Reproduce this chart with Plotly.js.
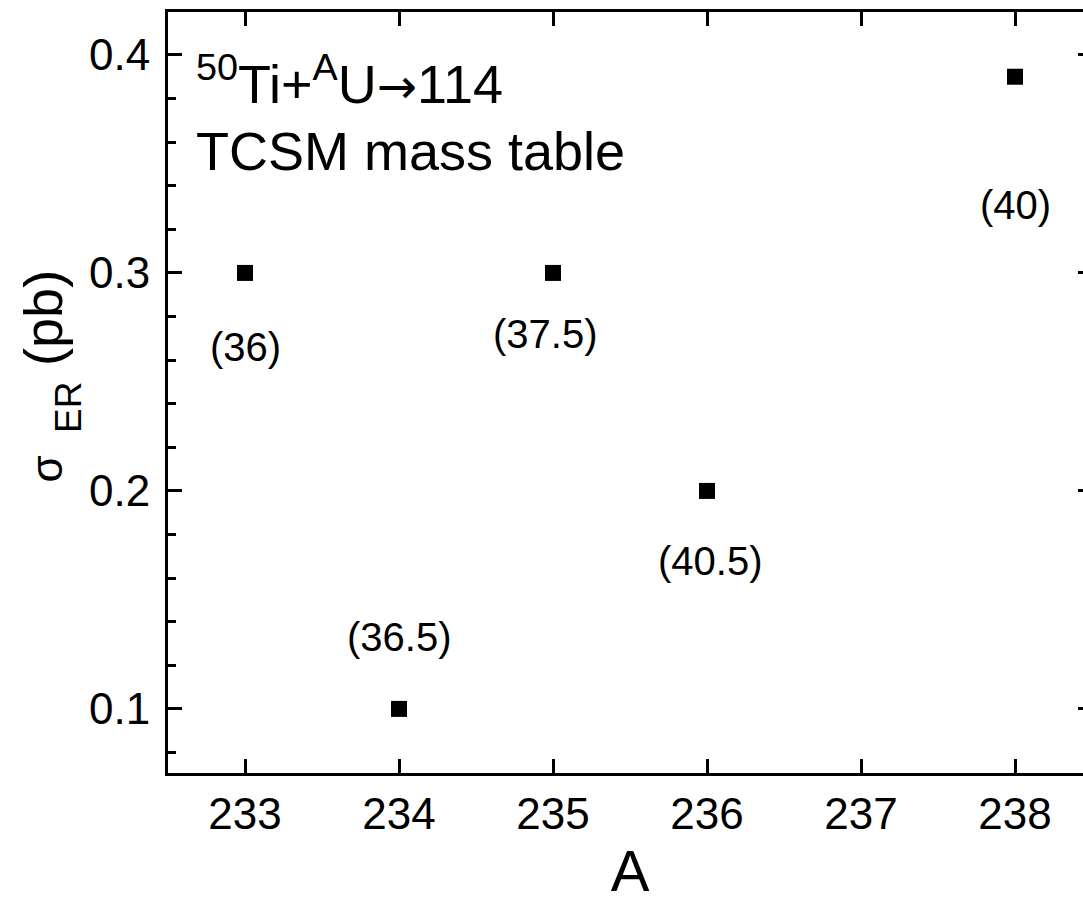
<!DOCTYPE html>
<html><head><meta charset="utf-8">
<script src="https://cdn.plot.ly/plotly-3.0.1.min.js"></script>
<style>html,body{margin:0;padding:0;overflow:hidden;background:#fff;width:1083px;height:906px}</style>
</head><body>
<div id="chart" style="width:1092px;height:906px"></div>
<script>
// Data
const massA = [233, 234, 235, 236, 238];
const sigmaER = [0.3, 0.1, 0.3, 0.2, 0.39];
const labelText = ["(36)", "(36.5)", "(37.5)", "(40.5)", "(40)"];
const labelX = [233, 234, 234.95, 236.02, 238];
const labelY = [0.266, 0.133, 0.272, 0.168, 0.331];
const xTicks = [233, 234, 235, 236, 237, 238];
const yTicks = [0.1, 0.2, 0.3, 0.4];

const font = "Liberation Sans, Arial, sans-serif";

const trace = {
  x: massA, y: sigmaER, type: 'scatter', mode: 'markers',
  marker: {symbol: 'square', size: 16, color: '#000'},
  showlegend: false, hoverinfo: 'skip'
};

const annotations = labelText.map((t, i) => ({
  x: labelX[i], y: labelY[i], xref: 'x', yref: 'y', text: t, showarrow: false,
  font: {family: font, size: 40, color: '#000'}, xanchor: 'center', yanchor: 'middle'
}));
annotations.push({
  xref: 'paper', yref: 'paper', x: 0.0285, y: 0.911, xanchor: 'left', yanchor: 'middle',
  text: "<sup>50</sup>Ti+<sup>A</sup>U<span style='font-family:DejaVu Sans;font-size:48px'>→</span>114", showarrow: false,
  font: {family: font, size: 54, color: '#000'}
});
annotations.push({
  xref: 'paper', yref: 'paper', x: 0.0285, y: 0.817, xanchor: 'left', yanchor: 'middle',
  text: "TCSM mass table", showarrow: false,
  font: {family: font, size: 54, color: '#000'}
});
// Y-axis title pieces (rotated)
annotations.push({
  xref: 'paper', yref: 'paper', x: -0.1353, y: 0.598, xanchor: 'center', yanchor: 'middle',
  text: "(pb)", textangle: -90, showarrow: false,
  font: {family: font, size: 54, color: '#000'}
});
annotations.push({
  xref: 'paper', yref: 'paper', x: -0.1082, y: 0.4796, xanchor: 'center', yanchor: 'middle',
  text: "ER", textangle: -90, showarrow: false,
  font: {family: font, size: 37, color: '#000'}
});
annotations.push({
  xref: 'paper', yref: 'paper', x: -0.131, y: 0.40, xanchor: 'center', yanchor: 'middle',
  text: "σ", textangle: -90, showarrow: false,
  font: {family: font, size: 44, color: '#000'}
});

const layout = {
  width: 1092, height: 906,
  margin: {l: 168, r: 0, t: 12, b: 133},
  paper_bgcolor: '#fff', plot_bgcolor: '#fff',
  font: {family: font, color: '#000'},
  xaxis: {
    range: [232.5, 238.5], tickvals: xTicks, ticktext: xTicks.map(String),
    ticks: 'inside', ticklen: 14, tickwidth: 3, tickcolor: '#000',
    showline: true, linewidth: 3, linecolor: '#000', mirror: 'ticks',
    showgrid: false, zeroline: false,
    tickfont: {family: font, size: 44, color: '#000'},
    title: {text: 'A', font: {family: font, size: 58, color: '#000'}, standoff: 14}
  },
  yaxis: {
    range: [0.0706, 0.4197], tickvals: yTicks, ticktext: ['0.1','0.2','0.3','0.4'],
    ticks: 'inside', ticklen: 14, tickwidth: 3, tickcolor: '#000',
    minor: {dtick: 0.02, tick0: 0, ticks: 'inside', ticklen: 8, tickwidth: 3, tickcolor: '#000'},
    showline: true, linewidth: 3, linecolor: '#000', mirror: 'ticks',
    showgrid: false, zeroline: false,
    tickfont: {family: font, size: 44, color: '#000'},
    ticklabelstandoff: 6
  },
  annotations: annotations
};

Plotly.newPlot('chart', [trace], layout, {displayModeBar: false, staticPlot: true});
</script>
</body></html>
